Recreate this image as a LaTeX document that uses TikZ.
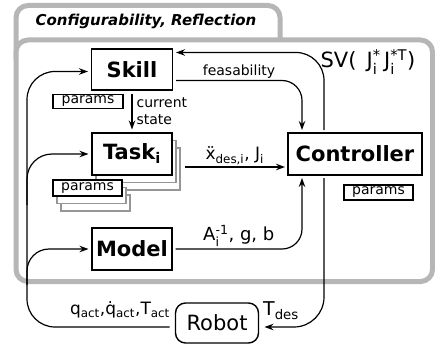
\documentclass[tikz,border=0pt]{standalone}
\usepackage{amsmath}
\usepackage{fontspec}
\setmainfont{DejaVu Sans}
\usetikzlibrary{arrows.meta,positioning,shadows}
\definecolor{cfFrame}{RGB}{182,182,182}
\definecolor{cfCard}{RGB}{150,150,150}

\begin{document}
\begin{tikzpicture}[x=1pt,y=-1pt,
  box/.style={draw,line width=1.4pt,fill=white,minimum width=80pt,minimum height=42pt,
    inner sep=0pt,outer sep=3.5pt,font=\fontsize{21}{25}\selectfont\bfseries},
  parambox/.style={draw,line width=1.1pt,fill=white,minimum width=69pt,minimum height=15pt,
    inner sep=0pt,font=\fontsize{14}{16}\selectfont},
  cards/.style={copy shadow={shadow xshift=8pt,shadow yshift=-15pt,draw=cfCard,fill=white,line width=1.2pt},
    copy shadow={shadow xshift=4pt,shadow yshift=-7.5pt,draw=cfCard,fill=white,line width=1.2pt}},
  flow/.style={-{Stealth[length=9pt,width=6.5pt]},line width=1.2pt},
  lbl/.style={font=\fontsize{14}{17}\selectfont,inner sep=1pt},
  sym/.style={font=\fontsize{17}{20}\selectfont,inner sep=2pt}]
  \useasboundingbox (0,0) rectangle (435,350);
  \draw[cfFrame,line width=5pt,fill=white,rounded corners=12pt] (16,5.5) rectangle (280,70);
  \node[font=\fontsize{15}{18}\selectfont\bfseries\itshape] (title) at (146,21) {Configurability, Reflection};
  \draw[cfFrame,line width=5pt,fill=white,rounded corners=12pt] (16,40) rectangle (432.5,281.5);

  \node[box,minimum width=81pt,minimum height=41pt] (skill) at (132,69.5) {Skill};
  \node[box,cards] (task) at (132,154) {Task$_{\text{i}}$};
  \node[box] (model) at (132,249) {Model};
  \node[box,minimum width=134pt,outer sep=3pt] (ctrl) at (355,154) {Controller};
  \node[draw,line width=1.4pt,rounded corners=10pt,minimum width=83pt,minimum height=40pt,
    inner sep=0pt,outer sep=6pt,font=\fontsize{21}{25}\selectfont] (robot) at (217,323) {Robot};
  \node[parambox,minimum width=70pt,minimum height=14pt] (skillpar) at (88,101.5) {params};
  \node[parambox,minimum height=16pt,cards] (taskpar) at (87.5,188) {params};
  \node[parambox] (ctrlpar) at (378.5,192.5) {params};

  \coordinate (bend) at (27,327);
  \coordinate (tapT) at (27,205);
  \coordinate (tapM) at (27,285);

  \draw[flow] (skill.south) -- (task.north)
    node[lbl,midway,right,xshift=3pt,align=left] {current\\state};
  \draw[flow,rounded corners=20pt] ([yshift=-11pt]skill.east) -| ([xshift=-53pt]ctrl.north)
    node[lbl,pos=0.25,above] {feasability};
  \draw[flow,rounded corners=28pt] ([xshift=-31pt]ctrl.north) |- ([yshift=17pt]skill.east);
  \node[font=\fontsize{21}{25}\selectfont] (svlbl) at (368,62) {SV(\, J$^{\text{*}}_{\text{i}}$\,J$^{\text{*T}}_{\text{i}}$)};
  \draw[flow] ([xshift=9pt,yshift=-13pt]task.east) -- ([yshift=-13pt]ctrl.west)
    node[sym,midway,above] {ẍ$_{\text{des,i}}$, J$_{\text{i}}$};
  \draw[flow,rounded corners=20pt] (model.east) -| ([xshift=-53pt]ctrl.south)
    node[sym,font=\fontsize{18}{21}\selectfont,pos=0.25,above] {A$^{\text{-1}}_{\text{i}}$, g, b};
  \draw[flow,rounded corners=30pt] ([xshift=-31pt]ctrl.south) |- ([yshift=-4pt]robot.east);
  \node[font=\fontsize{19}{22}\selectfont] (tdes) at (281,311) {T$_{\text{des}}$};

  \draw[flow,rounded corners=28pt] ([yshift=-4pt]robot.west) -- (bend) |- ([yshift=-2pt]skill.west);
  \draw[flow,rounded corners=25pt] (tapT) |- (task.west);
  \draw[flow,rounded corners=22pt] (tapM) |- (model.west);
  \node[font=\fontsize{17}{20}\selectfont] (qlbl) at (120,310) {q$_{\text{act}}$,\.{q}$_{\text{act}}$,T$_{\text{act}}$};
\end{tikzpicture}
\end{document}
